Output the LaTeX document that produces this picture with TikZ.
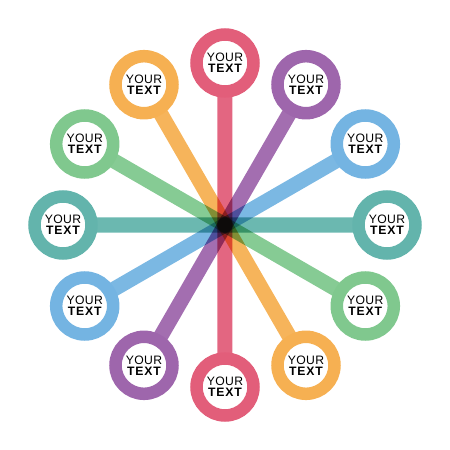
\documentclass[tikz,border=0pt]{standalone}
\usepackage{fontspec}
\usepackage{tikz}
\usetikzlibrary{backgrounds}
\newfontfamily\labelfont{Liberation Sans}
\definecolor{cred}{RGB}{226,94,122}
\definecolor{cpurple}{RGB}{158,102,172}
\definecolor{cblue}{RGB}{116,180,226}
\definecolor{cteal}{RGB}{99,180,172}
\definecolor{cgreen}{RGB}{128,200,142}
\definecolor{corange}{RGB}{246,176,82}
\newcommand{\yourtext}{{\addfontfeature{LetterSpace=3}YOUR}\\{\bfseries\addfontfeature{LetterSpace=7}TEXT}}

\begin{document}
\begin{tikzpicture}[x=1pt, y=1pt,
  main/.style = {draw, circle, line width=12.5pt, fill=white, minimum size=57pt,
    inner sep=0pt, align=center, font=\labelfont\fontsize{12.2}{11}\selectfont},
  bar/.style = {line width=15pt, opacity=0.95}]
\useasboundingbox (-225,-225) rectangle (225,225);
\node[main, draw=cred] (1) at (90:162) {\yourtext};
\node[main, draw=cpurple] (2) at (60:162) {\yourtext};
\node[main, draw=cblue] (3) at (30:162) {\yourtext};
\node[main, draw=cteal] (4) at (0:162) {\yourtext};
\node[main, draw=cgreen] (5) at (-30:162) {\yourtext};
\node[main, draw=corange] (6) at (-60:162) {\yourtext};
\node[main, draw=cred] (7) at (-90:162) {\yourtext};
\node[main, draw=cpurple] (8) at (-120:162) {\yourtext};
\node[main, draw=cblue] (9) at (-150:162) {\yourtext};
\node[main, draw=cteal] (10) at (180:162) {\yourtext};
\node[main, draw=cgreen] (11) at (150:162) {\yourtext};
\node[main, draw=corange] (12) at (120:162) {\yourtext};
\begin{pgfonlayer}{background}
\begin{scope}[blend group=multiply]
\draw[bar, cred] (1.center) -- (7.center);
\draw[bar, cpurple] (2.center) -- (8.center);
\draw[bar, cblue] (3.center) -- (9.center);
\draw[bar, cteal] (4.center) -- (10.center);
\draw[bar, cgreen] (5.center) -- (11.center);
\draw[bar, corange] (6.center) -- (12.center);
\end{scope}
\end{pgfonlayer}
\end{tikzpicture}
\end{document}
